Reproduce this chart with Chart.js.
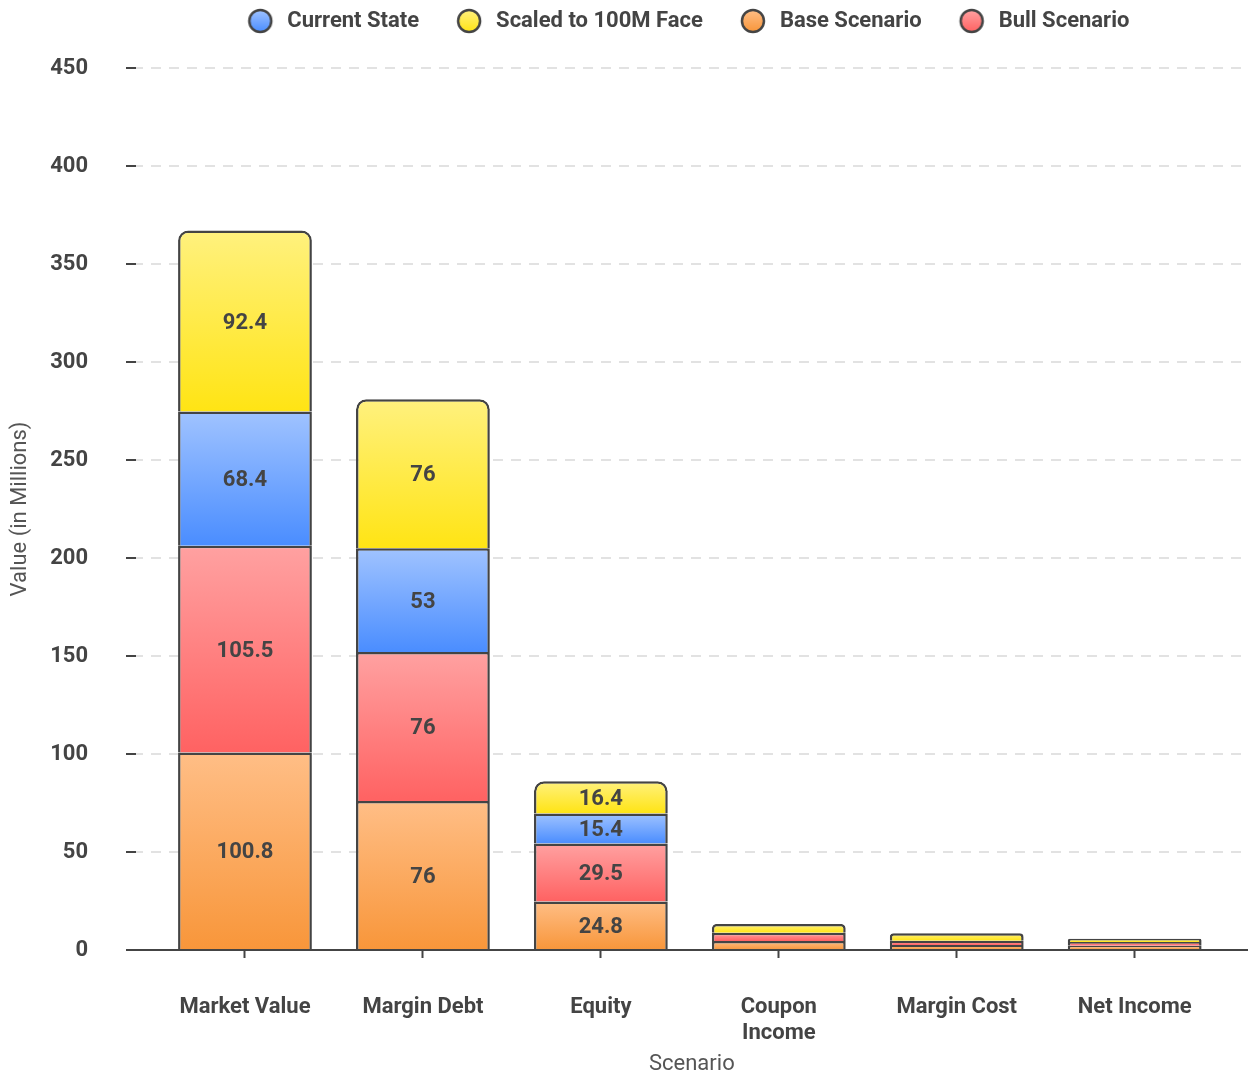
<!DOCTYPE html>
<html>
<head>
<meta charset="utf-8">
<script src="https://cdn.jsdelivr.net/npm/chart.js@4/dist/chart.umd.min.js"></script>
<style>
  html, body { margin: 0; padding: 0; background: #ffffff; }
  #wrap { width: 1248px; height: 1078px; position: relative; }
</style>
</head>
<body>
<div id="wrap"><canvas id="chart"></canvas></div>
<script>
// Categories and stacked series (values in millions)
const categories = ['Market Value', 'Margin Debt', 'Equity', ['Coupon', 'Income'], 'Margin Cost', 'Net Income'];
const baseScenario = [100.8, 76, 24.8, 4.6, 2.5, 2.2];
const bullScenario = [105.5, 76, 29.5, 4.2, 2.2, 1.9];
const currentState = [68.4, 53, 15.4, 0, 0, 0];
const scaledTo100M = [92.4, 76, 16.4, 4.5, 3.8, 1.6];
const yTicks = [0, 50, 100, 150, 200, 250, 300, 350, 400, 450];

const INK = '#444444';
const FONT = 'Roboto, "Noto Sans", sans-serif';
Chart.defaults.font.family = FONT;
Chart.defaults.color = INK;

// gradient pairs (top, bottom) for each series
const palette = {
  base:    ['#ffbe86', '#f8963a'],
  bull:    ['#ffa1a1', '#ff6262'],
  current: ['#a0c3ff', '#4a8dff'],
  scaled:  ['#fff17e', '#ffe414']
};

// stacking order, bottom to top
const series = [
  { label: 'Base Scenario',        data: baseScenario,  colors: palette.base },
  { label: 'Bull Scenario',        data: bullScenario,  colors: palette.bull },
  { label: 'Current State',        data: currentState,  colors: palette.current },
  { label: 'Scaled to 100M Face',  data: scaledTo100M,  colors: palette.scaled }
];
// legend display order
const legendOrder = ['Current State', 'Scaled to 100M Face', 'Base Scenario', 'Bull Scenario'];

// round legend markers, drawn off-centre inside a wide legend box
function makeDot(colors) {
  const c = document.createElement('canvas');
  c.width = 56; c.height = 28;
  const g = c.getContext('2d');
  const cx = 28 + 12, cy = 14, r = 11;
  const grad = g.createLinearGradient(0, cy - r, 0, cy + r);
  grad.addColorStop(0, colors[0]);
  grad.addColorStop(1, colors[1]);
  g.beginPath();
  g.arc(cx, cy, r, 0, Math.PI * 2);
  g.fillStyle = grad;
  g.fill();
  g.lineWidth = 2.5;
  g.strokeStyle = INK;
  g.stroke();
  return c;
}

function segmentFill(dsIndex) {
  return (ctx) => {
    const colors = series[dsIndex].colors;
    if (ctx.type !== 'data') return colors[1];
    const chart = ctx.chart;
    const y = chart.scales && chart.scales.y;
    if (!y || !chart.chartArea) return colors[1];
    const i = ctx.dataIndex;
    let start = 0;
    for (let k = 0; k < dsIndex; k++) start += series[k].data[i] || 0;
    const v = series[dsIndex].data[i] || 0;
    const top = y.getPixelForValue(start + v);
    const bottom = y.getPixelForValue(start);
    if (!isFinite(top) || !isFinite(bottom) || top === bottom) return colors[1];
    const grad = chart.ctx.createLinearGradient(0, top, 0, bottom);
    grad.addColorStop(0, colors[0]);
    grad.addColorStop(1, colors[1]);
    return grad;
  };
}

const datasets = series.map((s, idx) => ({
  label: s.label,
  data: s.data,
  backgroundColor: segmentFill(idx),
  borderColor: INK,
  borderWidth: 2.5,
  borderRadius: idx === series.length - 1
    ? { topLeft: 10, topRight: 10, bottomLeft: 0, bottomRight: 0 }
    : 0,
  pointStyle: makeDot(s.colors),
  categoryPercentage: 0.8,
  barPercentage: 0.94
}));

// value labels centred in each tall-enough segment
const segmentLabels = {
  id: 'segmentLabels',
  afterDatasetsDraw(chart) {
    const ctx = chart.ctx;
    ctx.save();
    ctx.font = 'bold 22px ' + FONT;
    ctx.fillStyle = INK;
    ctx.textAlign = 'center';
    ctx.textBaseline = 'middle';
    chart.data.datasets.forEach((ds, di) => {
      const meta = chart.getDatasetMeta(di);
      if (meta.hidden) return;
      meta.data.forEach((el, i) => {
        const v = ds.data[i];
        if (!v) return;
        const h = Math.abs(el.base - el.y);
        if (h < 22) return;
        ctx.fillText(String(v), el.x, (el.y + el.base) / 2 + 2);
      });
    });
    ctx.restore();
  }
};

// extra room under the legend
const legendGap = {
  id: 'legendGap',
  beforeInit(chart) {
    const lg = chart.legend;
    if (!lg) return;
    const fit = lg.fit;
    lg.fit = function () {
      fit.call(this);
      this.height += 26;
    };
  }
};

// inset the category axis inside the plot area and nudge the legend row
const categoryInset = {
  id: 'categoryInset',
  afterLayout(chart) {
    const x = chart.scales.x;
    const a = chart.chartArea;
    x._startPixel = a.left + 20;
    x._endPixel = a.right - 24;
    x._length = x._endPixel - x._startPixel;
    if (chart.legend) {
      chart.legend.left -= 17;
      chart.legend.right -= 17;
    }
  }
};

new Chart(document.getElementById('chart'), {
  type: 'bar',
  data: { labels: categories, datasets },
  options: {
    responsive: true,
    maintainAspectRatio: false,
    animation: false,
    layout: { padding: 0 },
    plugins: {
      legend: {
        position: 'top',
        fullSize: false,
        labels: {
          usePointStyle: true,
          pointStyleWidth: 56,
          boxHeight: 22,
          padding: 10,
          color: INK,
          font: { size: 22, weight: 'bold' },
          generateLabels(chart) {
            const items = Chart.defaults.plugins.legend.labels.generateLabels(chart);
            items.forEach(it => { it.pointStyle = chart.data.datasets[it.datasetIndex].pointStyle; });
            return legendOrder.map(name => items.find(it => it.text === name));
          }
        }
      },
      tooltip: { enabled: true }
    },
    scales: {
      x: {
        stacked: true,
        afterFit(scale) { scale.height = 128; },
        grid: {
          display: true,
          offset: false,
          drawOnChartArea: false,
          drawTicks: true,
          tickLength: 8,
          tickColor: INK,
          tickWidth: 2
        },
        border: { display: true, color: INK, width: 2 },
        ticks: {
          padding: 36,
          color: INK,
          maxRotation: 0,
          autoSkip: false,
          font: { size: 22, weight: 'bold', lineHeight: 1.2 }
        },
        title: {
          display: true,
          text: 'Scenario',
          color: '#555555',
          font: { size: 22, weight: 'normal', lineHeight: 1.2 },
          padding: { top: 6, bottom: 0 }
        }
      },
      y: {
        stacked: true,
        min: 0,
        max: 450,
        afterFit(scale) { scale.width = 136; },
        afterBuildTicks(scale) { scale.ticks = yTicks.map(v => ({ value: v })); },
        grid: {
          color: '#e2e2e2',
          lineWidth: 2,
          tickLength: 10,
          tickColor: INK,
          tickWidth: 2,
          tickBorderDash: []
        },
        border: { display: false, dash: [10, 8], dashOffset: 3 },
        ticks: {
          padding: 38,
          color: INK,
          font: { size: 22, weight: 'bold' }
        },
        title: {
          display: true,
          text: 'Value (in Millions)',
          color: '#555555',
          font: { size: 22, weight: 'normal', lineHeight: 1.2 },
          padding: { top: 7, bottom: 10 }
        }
      }
    }
  },
  plugins: [legendGap, categoryInset, segmentLabels]
});
</script>
</body>
</html>
